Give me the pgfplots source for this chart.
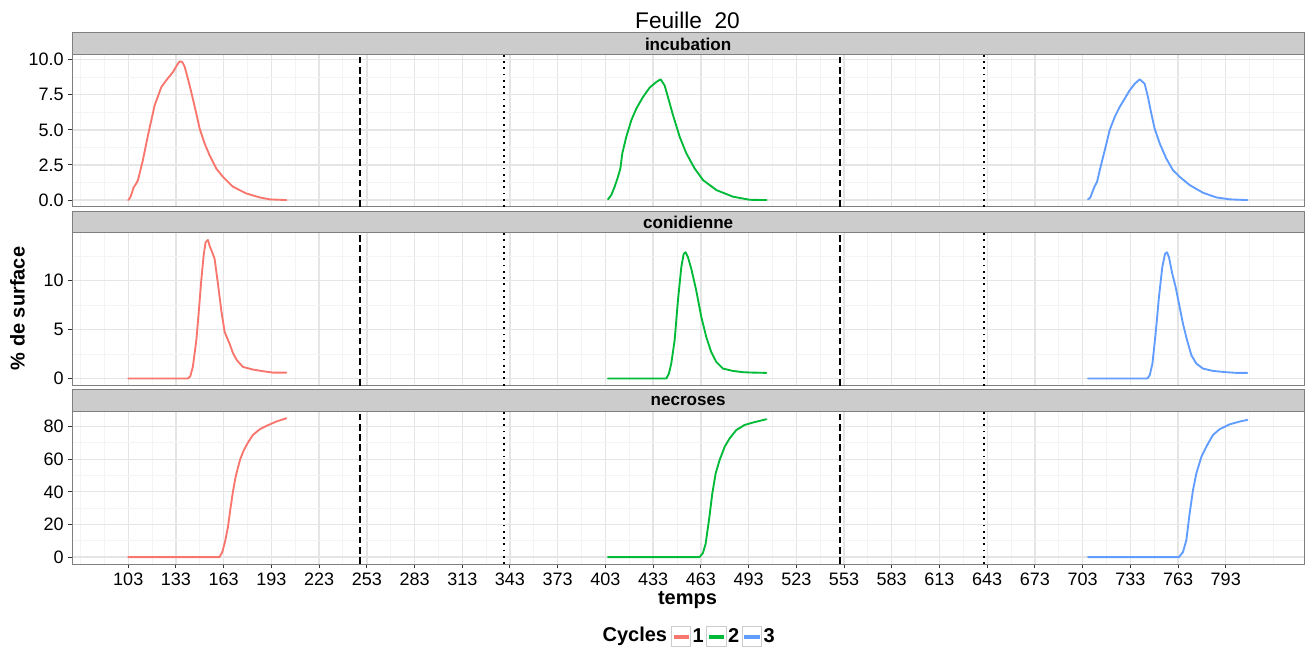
\documentclass[border=0pt]{standalone}
\usepackage{pgfplots}
\pgfplotsset{compat=1.18}
\usepackage{fontspec}
\setmainfont{Liberation Sans}
\definecolor{c1}{HTML}{F8766D}
\definecolor{c2}{HTML}{00BA38}
\definecolor{c3}{HTML}{619CFF}
\definecolor{gridmaj}{HTML}{E5E5E5}
\definecolor{gridmin}{HTML}{F4F4F4}
\definecolor{border}{HTML}{7F7F7F}
\definecolor{stripfill}{HTML}{CCCCCC}
\definecolor{tickc}{HTML}{333333}
\definecolor{keyborder}{HTML}{CCCCCC}
\pgfplotsset{
  facet/.style={
    scale only axis, width=923.8pt, height=114.375pt,
    anchor=south west,
    xmin=67.8, xmax=842.2,
    axis line style={border, line width=0.75pt},
    xtick={103,133,...,793}, minor xtick={73,88,118,...,808,823},
    grid=both,
    major grid style={gridmaj, line width=1pt},
    minor grid style={gridmin, line width=0.75pt},
    tick pos=left,
    tick align=outside, major tick length=3pt, minor tick length=0pt,
    tick style={tickc, line width=0.75pt},
    ticklabel style={font=\fontsize{13.5}{16}\selectfont, text=black},
    /pgf/number format/assume math mode=true,
    clip=false,
    every axis plot/.append style={line width=1.4pt, line join=round, line cap=round},
    legend image code/.code={
      \draw[keyborder, fill=white, line width=0.75pt, solid] (0pt,-7.3pt) rectangle (14.5pt,7.3pt);
      \draw[#1, line width=3pt, line cap=butt, solid] (1.5pt,0pt) -- (13pt,0pt);
    },
  },
  vdash/.style={black, line width=1.4pt, line cap=butt, dash pattern=on 5pt off 2.7pt},
  vdot/.style={black, line width=1.4pt, line cap=butt, dash pattern=on 1.4pt off 3.3pt},
}
\newcommand{\strip}[1]{%
  \draw[fill=stripfill, draw=border, line width=0.75pt] (rel axis cs:0,1) rectangle ([yshift=16.125pt]rel axis cs:1,1);
  \node[font=\bfseries\fontsize{12.8}{15}\selectfont, anchor=center, inner sep=0pt] at ([yshift=7.6pt]rel axis cs:0.5,1) {#1};
}
\begin{document}
\begin{tikzpicture}
\useasboundingbox (0,0) rectangle (981.75pt,-486pt);

% ---------- incubation ----------
\begin{axis}[facet, at={(54.2pt,-155.25pt)},
  ymin=-0.494, ymax=10.37,
  ytick={0,2.5,5,7.5,10}, yticklabels={0.0,2.5,5.0,7.5,10.0},
  minor ytick={1.25,3.75,6.25,8.75},
  xticklabels={}, xtick style={draw=none}]
\addplot[vdash] coordinates {(248.6,-0.494) (248.6,10.37)};
\addplot[vdash] coordinates {(550.6,-0.494) (550.6,10.37)};
\addplot[vdot] coordinates {(339.2,-0.494) (339.2,10.37)};
\addplot[vdot] coordinates {(641.2,-0.494) (641.2,10.37)};
\addplot[c1] coordinates {(103.0,0) (104.3,0.19) (105.5,0.59) (106.4,0.90) (108.0,1.18) (109.1,1.42) (112.2,2.84) (115.4,4.62) (119.6,6.75) (123.8,8.05) (126.9,8.53) (131.1,9.12) (134.2,9.71) (135.3,9.88) (137.0,9.83) (138.4,9.52) (140.5,8.65) (142.6,7.70) (145.8,6.16) (147.9,5.09) (151.0,4.03) (154.1,3.20) (158.3,2.25) (162.5,1.66) (168.8,0.95) (177.2,0.47) (185.6,0.19) (191.9,0.05) (202.4,0)};
\addplot[c2] coordinates {(404.6,0.05) (406.7,0.36) (408.8,0.95) (410.9,1.66) (412.4,2.25) (413.6,3.32) (416.1,4.50) (419.3,5.69) (422.4,6.51) (426.6,7.34) (430.8,8.01) (435.0,8.41) (437.7,8.60) (440.2,8.17) (442.3,7.34) (445.5,6.04) (449.7,4.50) (453.9,3.32) (459.1,2.25) (464.4,1.42) (472.8,0.71) (483.2,0.24) (493.7,0.02) (504.2,0)};
\addplot[c3] coordinates {(706.4,0.05) (707.9,0.19) (709.2,0.59) (710.6,0.99) (712.1,1.30) (713.8,2.13) (715.9,3.08) (718.0,4.03) (720.0,4.98) (723.2,5.92) (726.3,6.63) (729.5,7.23) (732.6,7.82) (735.8,8.29) (738.9,8.60) (742.0,8.29) (744.1,7.34) (746.2,6.16) (748.3,5.09) (751.5,4.03) (755.6,2.96) (759.8,2.13) (764.0,1.66) (770.3,1.07) (778.7,0.52) (787.1,0.19) (795.5,0.05) (806.6,0)};
\strip{incubation}
\end{axis}

% ---------- conidienne ----------
\begin{axis}[facet, at={(54.2pt,-289.125pt)},
  ymin=-0.71, ymax=14.89,
  ytick={0,5,10}, minor ytick={2.5,7.5,12.5},
  xticklabels={}, xtick style={draw=none}]
\addplot[vdash] coordinates {(248.6,-0.71) (248.6,14.89)};
\addplot[vdash] coordinates {(550.6,-0.71) (550.6,14.89)};
\addplot[vdot] coordinates {(339.2,-0.71) (339.2,14.89)};
\addplot[vdot] coordinates {(641.2,-0.71) (641.2,14.89)};
\addplot[c1] coordinates {(103,0) (140.5,0) (142.0,0.24) (143.6,1.19) (145.8,3.91) (147.4,6.97) (148.9,10.03) (150.4,12.58) (151.6,13.94) (153.1,14.18) (154.1,13.6) (155.8,12.92) (157.3,12.24) (159.4,9.69) (161.5,6.97) (163.6,4.76) (166.7,3.57) (168.8,2.62) (171.3,1.87) (175.1,1.19) (181.4,0.92) (187.7,0.75) (194.0,0.61) (202.4,0.61)};
\addplot[c2] coordinates {(404.6,0) (441.3,0) (442.9,0.51) (444.4,1.53) (446.5,3.91) (448.6,7.99) (450.7,11.39) (452.2,12.75) (453.4,12.92) (454.9,12.41) (457.0,11.22) (460.1,9.01) (463.3,6.29) (466.4,4.25) (469.5,2.72) (472.7,1.70) (476.9,1.02) (483.2,0.78) (489.5,0.65) (495.8,0.61) (504.2,0.58)};
\addplot[c3] coordinates {(706.4,0) (743.7,0) (745.2,0.34) (746.9,1.53) (748.9,4.59) (751.0,8.33) (753.1,11.39) (754.8,12.75) (756.1,12.92) (757.3,12.41) (759.4,10.71) (761.5,9.35) (764.0,7.31) (766.1,5.61) (768.7,3.91) (771.4,2.38) (774.5,1.53) (778.7,1.02) (785.0,0.78) (793.4,0.65) (799.7,0.58) (806.6,0.58)};
\strip{conidienne}
\end{axis}

% ---------- necroses ----------
\begin{axis}[facet, at={(54.2pt,-423pt)},
  ymin=-4.25, ymax=89.25,
  ytick={0,20,40,60,80}, minor ytick={10,30,50,70},
  legend columns=-1,
  legend style={draw=none, fill=none, at={(0.4861,-0.4754)}, anchor=west,
    inner sep=0pt, outer sep=0pt,
    font=\bfseries\fontsize{15}{18}\selectfont,
    nodes={inner sep=1pt},
    /tikz/every even column/.append style={column sep=1pt}}]
\addplot[vdash, forget plot] coordinates {(248.6,-4.25) (248.6,89.25)};
\addplot[vdash, forget plot] coordinates {(550.6,-4.25) (550.6,89.25)};
\addplot[vdot, forget plot] coordinates {(339.2,-4.25) (339.2,89.25)};
\addplot[vdot, forget plot] coordinates {(641.2,-4.25) (641.2,89.25)};
\addplot[c1] coordinates {(103,0) (160.4,0) (162.1,3.1) (163.8,9.2) (165.7,18.5) (167.1,28.7) (168.8,40.0) (170.5,49.2) (172.0,55.0) (173.4,60.0) (175.5,65.2) (178.2,70.1) (181.4,74.9) (185.6,78.3) (189.8,80.4) (196.1,83.1) (202.4,85.1)};
\addlegendentry{1}
\addplot[c2] coordinates {(404.6,0) (462.2,0) (464.3,2.46) (466.0,8.2) (468.1,22.6) (470.2,39.0) (472.3,51.3) (474.8,59.5) (478.0,67.7) (481.1,72.8) (485.3,77.9) (490.5,81.0) (495.8,82.5) (504.2,84.5)};
\addlegendentry{2}
\addplot[c3] coordinates {(706.4,0) (763.6,0) (766.1,3.08) (768.2,10.3) (770.3,26.7) (772.4,41.0) (774.5,51.3) (777.7,61.5) (780.8,67.7) (785.0,74.9) (789.2,78.4) (795.5,81.4) (801.8,83.1) (806.6,84.1)};
\addlegendentry{3}
\strip{necroses}
\end{axis}

% titles
\node[anchor=base, font=\fontsize{17}{20}\selectfont, inner sep=0pt] at (515.6pt,-21.2pt) {Feuille\ \ 20};
\node[anchor=base, font=\bfseries\fontsize{15}{18}\selectfont, inner sep=0pt] at (515.6pt,-453pt) {temps};
\node[rotate=90, anchor=center, font=\bfseries\fontsize{15}{18}\selectfont, inner sep=0pt] at (13.1pt,-231.4pt) {\% de surface};
\node[anchor=east, font=\bfseries\fontsize{15}{18}\selectfont, inner sep=0pt] at (500.5pt,-477.4pt) {Cycles};
\end{tikzpicture}
\end{document}
